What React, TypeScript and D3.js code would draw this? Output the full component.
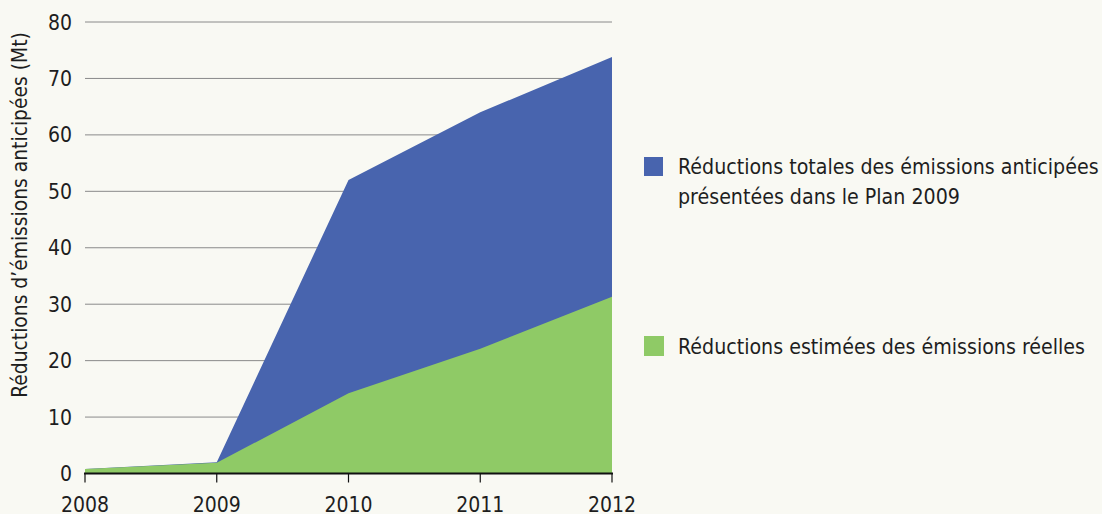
import React from "react";
import * as d3 from "d3";

const years = [2008, 2009, 2010, 2011, 2012];
const totalPlanned = [0.8, 2.0, 52.0, 64.0, 73.8];
const estimatedActual = [0.8, 1.9, 14.2, 22.1, 31.3];
const yTicks = [0, 10, 20, 30, 40, 50, 60, 70, 80];
const legendLabels = [
  ["Réductions totales des émissions anticipées", "présentées dans le Plan 2009"],
  ["Réductions estimées des émissions réelles"],
];
const yTitle = "Réductions d’émissions anticipées (Mt)";

const W = 1102;
const H = 514;
const FONT = "'DejaVu Sans Condensed', 'DejaVu Sans', sans-serif";
const BLUE = "#4864ae";
const GREEN = "#8fca66";
const TXT = "#1e1e1e";

export default function App() {
  const x = d3.scaleLinear().domain([2008, 2012]).range([85, 612]);
  const y = d3.scaleLinear().domain([0, 80]).range([473.5, 22]);

  const area = d3
    .area<[number, number]>()
    .x((d) => x(d[0]))
    .y0(y(0))
    .y1((d) => y(d[1]));

  const totalData = years.map((yr, i) => [yr, totalPlanned[i]] as [number, number]);
  const actualData = years.map((yr, i) => [yr, estimatedActual[i]] as [number, number]);

  return (
    <svg
      width={W}
      height={H}
      style={{ position: "absolute", left: 0, top: 0, background: "#f9f9f3" }}
      fontFamily={FONT}
    >
      <rect x={0} y={0} width={W} height={H} fill="#f9f9f3" />
      {yTicks.map((t) => (
        <g key={t}>
          {t > 0 && (
            <line x1={85} x2={612} y1={y(t)} y2={y(t)} stroke="#8a8a8a" strokeWidth={1} />
          )}
          <text x={72} y={y(t) + 7.5} textAnchor="end" fontSize={21} fill={TXT}>
            {t}
          </text>
        </g>
      ))}
      <path d={area(totalData) || ""} fill={BLUE} />
      <path d={area(actualData) || ""} fill={GREEN} />
      <line x1={84} x2={613} y1={y(0)} y2={y(0)} stroke="#111" strokeWidth={2.2} />
      {years.map((yr) => (
        <g key={yr}>
          <line x1={x(yr)} x2={x(yr)} y1={y(0)} y2={y(0) + 9} stroke="#111" strokeWidth={1.2} />
          <text x={x(yr)} y={512} textAnchor="middle" fontSize={21} fill={TXT}>
            {yr}
          </text>
        </g>
      ))}
      <text
        transform={`translate(27, 215) rotate(-90)`}
        textAnchor="middle"
        fontSize={20.8}
        fill={TXT}
      >
        {yTitle}
      </text>
      <rect x={644} y={157} width={19} height={19} fill={BLUE} />
      {legendLabels[0].map((l, i) => (
        <text key={i} x={678} y={174} dy={i * 30} fontSize={21.2} fill={TXT}>
          {l}
        </text>
      ))}
      <rect x={644} y={336} width={20} height={20} fill={GREEN} />
      {legendLabels[1].map((l, i) => (
        <text key={i} x={678} y={354} dy={i * 30} fontSize={21.2} fill={TXT}>
          {l}
        </text>
      ))}
    </svg>
  );
}
